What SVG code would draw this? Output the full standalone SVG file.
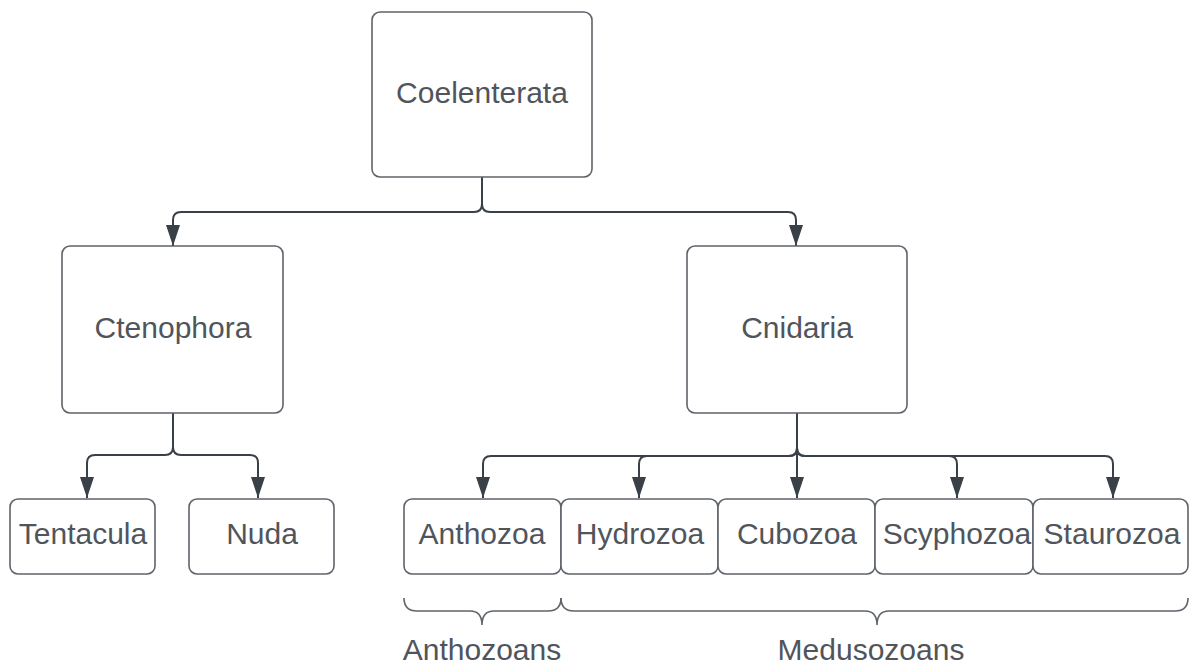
<svg xmlns="http://www.w3.org/2000/svg" width="1189" height="664" viewBox="0 0 1189 664">
<style>
.box{fill:#fff;stroke:#5f646b;stroke-width:1.6}
.t{font-family:"Liberation Sans",Arial,sans-serif;font-size:30px;fill:#50555c;text-anchor:middle}
.c{fill:none;stroke:#3a4048;stroke-width:2}
.br{fill:none;stroke:#5f646b;stroke-width:1.6}
</style>
<defs>
<marker id="ah" viewBox="0 0 21 14" refX="21" refY="7" markerWidth="21" markerHeight="14" markerUnits="userSpaceOnUse" orient="auto">
<path d="M0,0 L21,7 L0,14 Z" fill="#3a4048"/>
</marker>
</defs>
<rect width="1189" height="664" fill="#fff"/>
<g id="connectors">
<path class="c" d="M482,177 V204 Q482,212 474,212 H181 Q173,212 173,220 V246" marker-end="url(#ah)"/>
<path class="c" d="M482,177 V204 Q482,212 490,212 H788 Q796,212 796,220 V246" marker-end="url(#ah)"/>
<path class="c" d="M173,413 V447 Q173,455 165,455 H95 Q87,455 87,463 V498" marker-end="url(#ah)"/>
<path class="c" d="M173,413 V447 Q173,455 181,455 H250 Q258,455 258,463 V498" marker-end="url(#ah)"/>
<path class="c" d="M797,413 V448 Q797,456 789,456 H491 Q483,456 483,464 V498" marker-end="url(#ah)"/>
<path class="c" d="M797,413 V448 Q797,456 789,456 H647 Q639,456 639,464 V498" marker-end="url(#ah)"/>
<path class="c" d="M797,413 V498" marker-end="url(#ah)"/>
<path class="c" d="M797,413 V448 Q797,456 805,456 H949 Q957,456 957,464 V498" marker-end="url(#ah)"/>
<path class="c" d="M797,413 V448 Q797,456 805,456 H1105 Q1113,456 1113,464 V498" marker-end="url(#ah)"/>
</g>
<g id="coelenterata"><rect class="box" x="372" y="12" width="220" height="165" rx="8"/><text class="t" x="482" y="103">Coelenterata</text></g>
<g id="ctenophora"><rect class="box" x="62" y="246" width="221" height="167" rx="8"/><text class="t" x="173" y="338">Ctenophora</text></g>
<g id="cnidaria"><rect class="box" x="687" y="246" width="220" height="167" rx="8"/><text class="t" x="797" y="338">Cnidaria</text></g>
<g id="tentacula"><rect class="box" x="10" y="499" width="145" height="75" rx="8"/><text class="t" x="83" y="544">Tentacula</text></g>
<g id="nuda"><rect class="box" x="189" y="499" width="145" height="75" rx="8"/><text class="t" x="262" y="544">Nuda</text></g>
<g id="anthozoa"><rect class="box" x="404" y="499" width="157" height="75" rx="8"/><text class="t" x="482" y="544">Anthozoa</text></g>
<g id="hydrozoa"><rect class="box" x="561" y="499" width="157" height="75" rx="8"/><text class="t" x="640" y="544">Hydrozoa</text></g>
<g id="cubozoa"><rect class="box" x="718" y="499" width="157" height="75" rx="8"/><text class="t" x="797" y="544">Cubozoa</text></g>
<g id="scyphozoa"><rect class="box" x="875" y="499" width="158" height="75" rx="8"/><text class="t" x="957" y="544">Scyphozoa</text></g>
<g id="staurozoa"><rect class="box" x="1033" y="499" width="155" height="75" rx="8"/><text class="t" x="1112" y="544">Staurozoa</text></g>
<g id="anthozoans">
<path class="br" d="M404,598 Q404,611 417,611 H470 Q482,611 482,625 Q482,611 494,611 H548 Q561,611 561,598"/>
<text class="t" x="482" y="660">Anthozoans</text>
</g>
<g id="medusozoans">
<path class="br" d="M561,598 Q561,611 574,611 H865 Q877,611 877,625 Q877,611 889,611 H1175 Q1188,611 1188,598"/>
<text class="t" x="871" y="660">Medusozoans</text>
</g>
</svg>
